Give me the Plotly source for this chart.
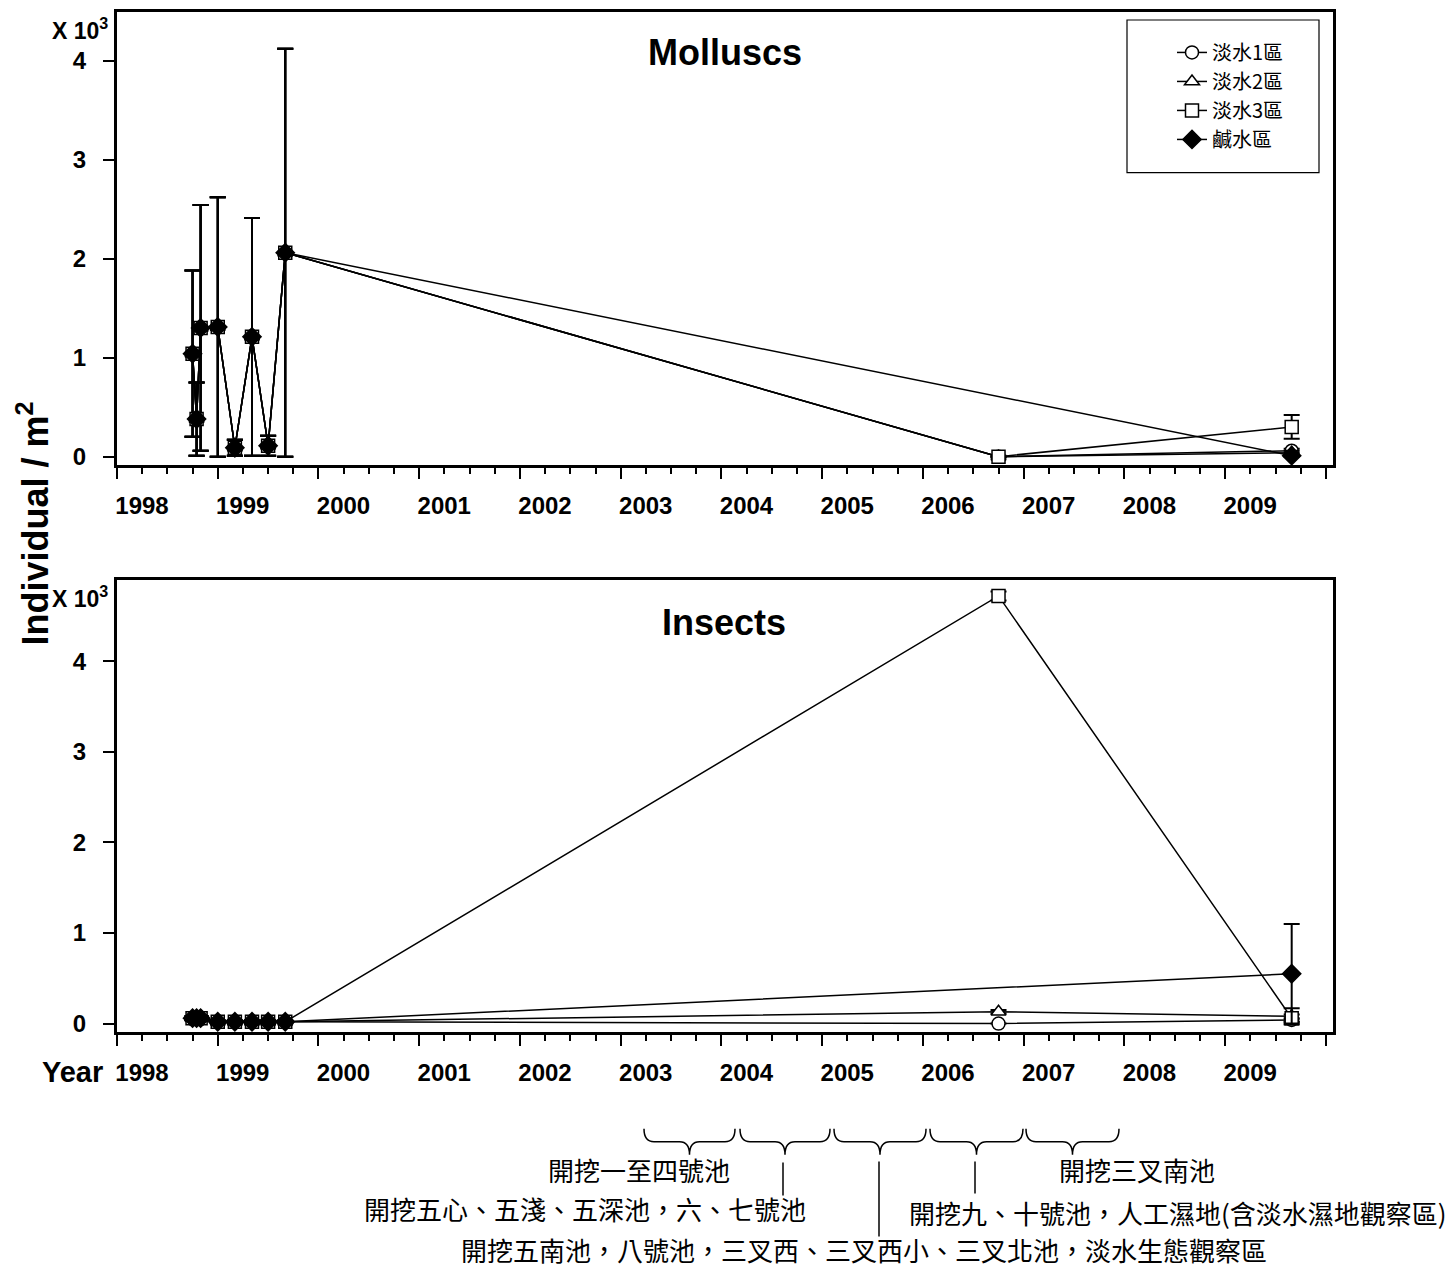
import plotly.graph_objects as go

# ---------------------------------------------------------------------------
# Data: densities in units of 10^3 individuals / m^2, sampling dates as
# decimal years.  None = no sample for that zone on that date.
# ---------------------------------------------------------------------------
dates = [1998.75, 1998.79, 1998.83, 1999.00, 1999.17, 1999.34, 1999.50, 1999.67,
         2006.75, 2009.66]

series_names = ["淡水1區", "淡水2區", "淡水3區", "鹹水區"]

# Molluscs
moll_fw1 = [1.04, 0.38, 1.30, 1.31, 0.09, 1.21, 0.11, 2.06, 0.00, 0.06]
moll_fw2 = [1.04, 0.38, 1.30, 1.31, 0.09, 1.21, 0.11, 2.06, 0.00, 0.04]
moll_fw3 = [1.04, 0.38, 1.30, 1.31, 0.09, 1.21, 0.11, 2.06, 0.00, 0.30]
moll_salt = [1.04, 0.38, 1.30, 1.31, 0.09, 1.21, 0.11, 2.06, None, 0.01]

moll_fw1_sd = [0.84, 0.37, 1.24, 1.31, 0.08, 1.20, 0.10, 2.06, 0.00, 0.02]
moll_fw2_sd = [0.84, 0.37, 1.24, 1.31, 0.08, 1.20, 0.10, 2.06, 0.00, 0.02]
moll_fw3_sd = [0.84, 0.37, 1.24, 1.31, 0.08, 1.20, 0.10, 2.06, 0.01, 0.12]
moll_salt_sd = [0.84, 0.37, 1.24, 1.31, 0.08, 1.20, 0.10, 2.06, None, 0.01]

# Insects
ins_fw1 = [0.06, 0.06, 0.06, 0.02, 0.02, 0.02, 0.02, 0.02, 0.00, 0.04]
ins_fw2 = [0.06, 0.06, 0.06, 0.02, 0.02, 0.02, 0.02, 0.02, 0.13, 0.08]
ins_fw3 = [0.06, 0.06, 0.06, 0.02, 0.02, 0.02, 0.02, 0.02, 4.72, 0.06]
ins_salt = [0.06, 0.06, 0.06, 0.02, 0.02, 0.02, 0.02, 0.02, None, 0.55]

ins_fw1_sd = [0.02, 0.02, 0.02, 0.01, 0.01, 0.01, 0.01, 0.01, 0.00, 0.02]
ins_fw2_sd = [0.02, 0.02, 0.02, 0.01, 0.01, 0.01, 0.01, 0.01, 0.02, 0.09]
ins_fw3_sd = [0.02, 0.02, 0.02, 0.01, 0.01, 0.01, 0.01, 0.01, 0.05, 0.04]
ins_salt_sd = [0.02, 0.02, 0.02, 0.01, 0.01, 0.01, 0.01, 0.01, None, 0.55]

year_ticks = list(range(1998, 2011))
year_labels = [str(y) for y in range(1998, 2010)] + [""]
y_ticks = [0, 1, 2, 3, 4]

# Excavation timeline notes
notes = [
    "開挖一至四號池",
    "開挖五心、五淺、五深池，六、七號池",
    "開挖五南池，八號池，三叉西、三叉西小、三叉北池，淡水生態觀察區",
    "開挖九、十號池，人工濕地(含淡水濕地觀察區)",
    "開挖三叉南池",
]

# ---------------------------------------------------------------------------
# Layout geometry (pixels)
# ---------------------------------------------------------------------------
W, H = 1451, 1268
ML, MR, MT, MB = 117, 118, 9, 236
PW, PH = W - ML - MR, H - MT - MB


def px(x):
    return (x - ML) / PW


def py(y):
    return (H - MB - y) / PH


LATIN = "Liberation Sans, Arial, sans-serif"
CJK = "Noto Sans CJK TC, Noto Sans CJK SC, sans-serif"

styles = [
    dict(symbol="circle", size=13, color="white"),
    dict(symbol="triangle-up", size=13, color="white"),
    dict(symbol="square", size=13, color="white"),
    dict(symbol="diamond", size=14, color="black"),
]

fig = go.Figure()

panels = [
    ("y", [moll_fw1, moll_fw2, moll_fw3, moll_salt],
     [moll_fw1_sd, moll_fw2_sd, moll_fw3_sd, moll_salt_sd], True),
    ("y2", [ins_fw1, ins_fw2, ins_fw3, ins_salt],
     [ins_fw1_sd, ins_fw2_sd, ins_fw3_sd, ins_salt_sd], False),
]

for yaxis, vals, sds, show in panels:
    xaxis = "x" if yaxis == "y" else "x2"
    for name, v, sd, st in zip(series_names, vals, sds, styles):
        fig.add_trace(go.Scatter(
            x=dates, y=v, name=name, mode="lines+markers",
            connectgaps=True, showlegend=show,
            xaxis=xaxis, yaxis=yaxis,
            line=dict(color="black", width=1.5),
            marker=dict(symbol=st["symbol"], size=st["size"], color=st["color"],
                        line=dict(color="black", width=1.5)),
            error_y=dict(type="data", array=sd, visible=True,
                         color="black", thickness=2, width=8),
        ))

xaxis_common = dict(
    range=[1998.0, 2010.07], showline=True, mirror=True, linewidth=3,
    linecolor="black", showgrid=False, zeroline=False,
    tickmode="array", tickvals=year_ticks, ticktext=year_labels,
    ticks="outside", ticklen=11, tickwidth=2, tickcolor="black",
    ticklabelshift=25, ticklabelstandoff=6,
    tickfont=dict(family=LATIN, size=24, color="black", weight="bold"),
    minor=dict(tickmode="linear", tick0=1998, dtick=0.25, ticks="outside",
               ticklen=6, tickwidth=1.5, tickcolor="black"),
)
yaxis_common = dict(
    showline=True, mirror=True, linewidth=3, linecolor="black",
    showgrid=False, zeroline=False,
    tickmode="array", tickvals=y_ticks,
    ticks="outside", ticklen=11, tickwidth=2, tickcolor="black",
    ticklabelstandoff=12,
    tickfont=dict(family=LATIN, size=24, color="black", weight="bold"),
)

fig.update_layout(
    width=W, height=H,
    margin=dict(l=ML, r=MR, t=MT, b=MB),
    paper_bgcolor="white", plot_bgcolor="white",
    xaxis=dict(xaxis_common, anchor="y", domain=[0, 1]),
    yaxis=dict(yaxis_common, anchor="x", domain=[py(463.3), 1.0],
               range=[-0.084, 4.49]),
    xaxis2=dict(xaxis_common, anchor="y2", domain=[0, 1]),
    yaxis2=dict(yaxis_common, anchor="x2", domain=[0, py(578.3)],
                range=[-0.093, 4.90]),
    legend=dict(x=px(1172), y=py(30), xanchor="left", yanchor="top",
                bgcolor="rgba(0,0,0,0)", borderwidth=0,
                font=dict(family=CJK, size=20, color="black")),
    showlegend=True,
)

ann = []


def text(x, y, s, size, family=LATIN, bold=True, xanchor="center", angle=0):
    ann.append(dict(
        x=px(x), y=py(y), xref="paper", yref="paper", text=s, showarrow=False,
        xanchor=xanchor, yanchor="middle", textangle=angle,
        font=dict(family=family, size=size, color="black",
                  weight="bold" if bold else "normal"),
    ))


text(725, 50, "Molluscs", 36)
text(724, 621, "Insects", 36)
text(110, 26, "X 10<sup>3</sup>", 23, xanchor="right")
text(110, 596, "X 10<sup>3</sup>", 23, xanchor="right")
text(33, 522, "Individual / m<sup>2</sup>", 36, angle=-90)
text(72, 1072, "Year", 29)

note_pos = [(639, 1170), (585, 1209), (864, 1250), (1178, 1213), (1137, 1170)]
for s, (x, y) in zip(notes, note_pos):
    text(x, y, s, 26, family=CJK, bold=False)

fig.update_layout(annotations=ann)

shapes = []
# legend frame
shapes.append(dict(type="rect", xref="paper", yref="paper",
                   x0=px(1127), x1=px(1319), y0=py(170), y1=py(17),
                   line=dict(color="black", width=1.2), fillcolor="rgba(0,0,0,0)"))


def brace(x0, x1, yt=1129, ym=1142, yp=1155, r=10):
    xc = (x0 + x1) / 2
    pts = [
        ("M", [(x0, yt)]),
        ("Q", [(x0, ym), (x0 + r, ym)]),
        ("L", [(xc - r, ym)]),
        ("Q", [(xc, ym), (xc, yp)]),
        ("Q", [(xc, ym), (xc + r, ym)]),
        ("L", [(x1 - r, ym)]),
        ("Q", [(x1, ym), (x1, yt)]),
    ]
    d = ""
    for cmd, coords in pts:
        d += cmd + " ".join(f"{px(a):.5f},{py(b):.5f}" for a, b in coords) + " "
    return dict(type="path", xref="paper", yref="paper", path=d.strip(),
                line=dict(color="black", width=1.5))


for a, b in [(644, 735), (740, 830), (834, 926), (930, 1023), (1026, 1119)]:
    shapes.append(brace(a, b))

for x, y0, y1 in [(783, 1163, 1196), (879, 1162, 1237), (975, 1162, 1194)]:
    shapes.append(dict(type="line", xref="paper", yref="paper",
                       x0=px(x), x1=px(x), y0=py(y0), y1=py(y1),
                       line=dict(color="black", width=1.5)))

fig.update_layout(shapes=shapes)

fig.write_html("out.html")
